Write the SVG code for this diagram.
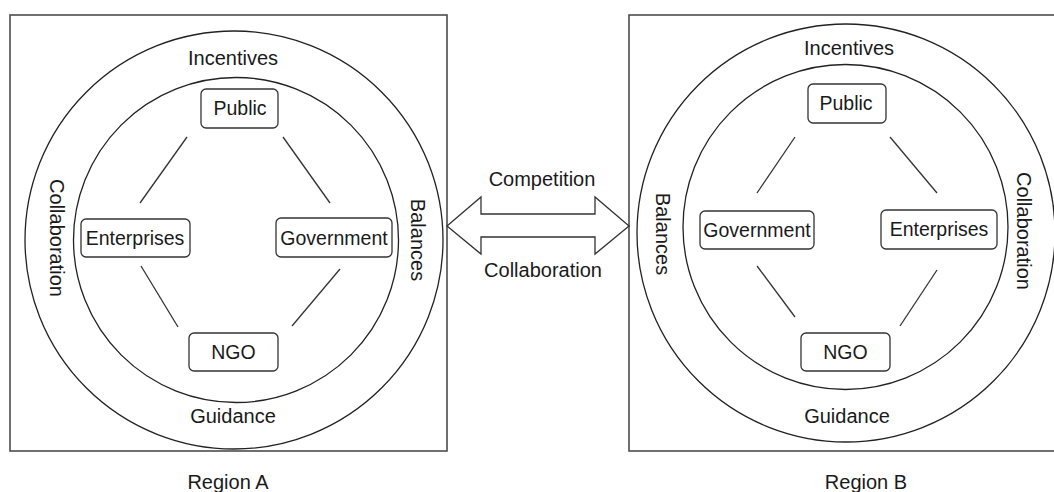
<svg xmlns="http://www.w3.org/2000/svg" width="1054" height="492" viewBox="0 0 1054 492">
<style>
.frame{fill:none;stroke:#4d4d4d;stroke-width:1.6}
.ring{fill:none;stroke:#222;stroke-width:1.3}
.box{fill:#fff;stroke:#333;stroke-width:1.3}
.lbl{font-family:"Liberation Sans",Arial,sans-serif;font-size:20px;fill:#1a1a1a;text-anchor:middle}
.nd{font-family:"Liberation Sans",Arial,sans-serif;font-size:19.5px;fill:#1a1a1a;text-anchor:middle}
.link{stroke:#333;stroke-width:1.3;fill:none}
</style>
<rect width="1054" height="492" fill="#fff"/>
<g id="regionA">
<rect class="frame" x="10" y="15" width="437" height="436"/>
<circle class="ring" cx="234" cy="240" r="209"/>
<circle class="ring" cx="236" cy="240" r="162.5"/>
<text class="lbl" x="233" y="65">Incentives</text>
<text class="lbl" x="233" y="423">Guidance</text>
<text class="lbl" transform="translate(50,238) rotate(90)" x="0" y="0">Collaboration</text>
<text class="lbl" transform="translate(410.5,240) rotate(90)" x="0" y="0">Balances</text>
<text class="lbl" x="228" y="489">Region A</text>
</g>
<g id="regionB">
<rect class="frame" x="629" y="15" width="440" height="436"/>
<circle class="ring" cx="846" cy="233" r="209"/>
<circle class="ring" cx="845.5" cy="227" r="162.5"/>
<text class="lbl" x="849" y="55">Incentives</text>
<text class="lbl" x="847" y="423">Guidance</text>
<text class="lbl" transform="translate(656,234) rotate(90)" x="0" y="0">Balances</text>
<text class="lbl" transform="translate(1017,231) rotate(90)" x="0" y="0">Collaboration</text>
<text class="lbl" x="866" y="489">Region B</text>
</g>
<g id="connectors">
<line class="link" x1="187" y1="137" x2="140" y2="203"/>
<line class="link" x1="283" y1="137" x2="330" y2="203"/>
<line class="link" x1="141" y1="266" x2="178" y2="327"/>
<line class="link" x1="340" y1="269" x2="292" y2="326"/>
<line class="link" x1="795" y1="137" x2="757" y2="193"/>
<line class="link" x1="890" y1="137" x2="937" y2="193"/>
<line class="link" x1="757" y1="266" x2="795" y2="317"/>
<line class="link" x1="937" y1="270" x2="900" y2="326"/>
<polygon points="447,226 481,197 481,214 595,214 595,197 629,226 595,254 595,237 481,237 481,254" fill="#fff" stroke="#333" stroke-width="1.3" stroke-linejoin="miter"/>
<text class="lbl" x="542" y="186">Competition</text>
<text class="lbl" x="543" y="277">Collaboration</text>
</g>
<g id="nodeA-public"><rect class="box" x="201" y="89" width="77" height="39" rx="5"/><text class="nd" x="240" y="115">Public</text></g>
<g id="nodeA-enterprises"><rect class="box" x="81" y="219" width="109" height="38" rx="5"/><text class="nd" x="135" y="245">Enterprises</text></g>
<g id="nodeA-government"><rect class="box" x="276" y="218" width="116" height="39" rx="5"/><text class="nd" x="334" y="245">Government</text></g>
<g id="nodeA-ngo"><rect class="box" x="189" y="333" width="89" height="38" rx="5"/><text class="nd" x="233.5" y="359">NGO</text></g>
<g id="nodeB-public"><rect class="box" x="808" y="84" width="78" height="39" rx="5"/><text class="nd" x="846" y="110">Public</text></g>
<g id="nodeB-government"><rect class="box" x="700" y="211" width="114" height="38" rx="5"/><text class="nd" x="757" y="237">Government</text></g>
<g id="nodeB-enterprises"><rect class="box" x="881" y="210" width="116" height="39" rx="5"/><text class="nd" x="939" y="236">Enterprises</text></g>
<g id="nodeB-ngo"><rect class="box" x="801" y="333" width="89" height="38" rx="5"/><text class="nd" x="845.5" y="359">NGO</text></g>
</svg>
